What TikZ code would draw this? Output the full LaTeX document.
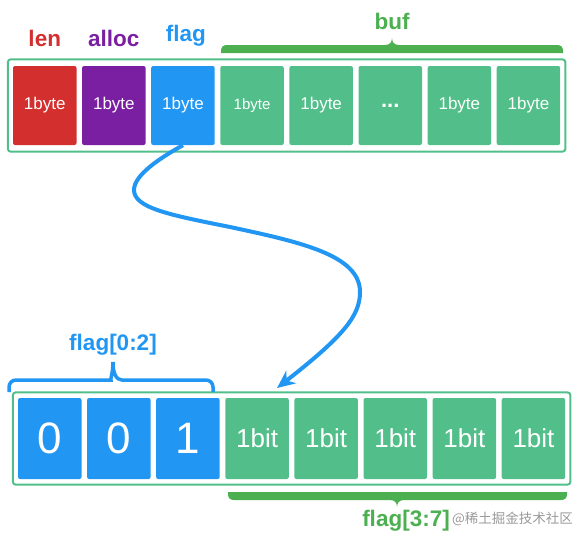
\documentclass[tikz,border=0pt]{standalone}
\usepackage{fontspec}
\setmainfont{Liberation Sans}
\newfontfamily\cjkfont{Noto Sans CJK SC}
\usetikzlibrary{positioning,fit,arrows.meta,calc}

\definecolor{lenred}{HTML}{D32F2F}
\definecolor{allocpurple}{HTML}{7B1FA2}
\definecolor{flagblue}{HTML}{2196F3}
\definecolor{cellgreen}{HTML}{52BF8A}
\definecolor{bracegreen}{HTML}{4CAF50}

\begin{document}
\begin{tikzpicture}[
    x=1pt, y=-1pt,
    cell/.style={
        rounded corners=2pt,
        minimum width=63.5pt,
        minimum height=79pt,
        inner sep=0pt,
        text=white,
        font=\fontsize{17}{17}\selectfont
    },
    bytecell/.style={cell, fill=cellgreen},
    bitcell/.style={cell, fill=cellgreen, minimum height=81pt, font=\fontsize{26}{26}\selectfont},
    digitcell/.style={bitcell, fill=flagblue, font=\fontsize{44}{44}\selectfont},
    frame/.style={draw=cellgreen, line width=2pt, rounded corners=3pt, inner xsep=5pt},
    lbl/.style={inner sep=0pt, font=\fontsize{22.5}{22.5}\selectfont\bfseries},
    flow/.style={-{Stealth[length=18pt,width=16pt]}, draw=flagblue, line width=4pt},
    bluebrace/.style={draw=flagblue, line width=3.5pt, rounded corners=7pt}
]
\useasboundingbox (0,0) rectangle (577,539);

% ============================================================
% STRUKTURA: len / alloc / flag / buf
% ============================================================
\node[cell, fill=lenred] (c1) at (44.75,105.5) {1byte};
\node[cell, fill=allocpurple, right=5.2pt of c1] (c2) {1byte};
\node[cell, fill=flagblue, right=5.2pt of c2] (c3) {1byte};
\node[bytecell, right=5.2pt of c3, font=\fontsize{15}{15}\selectfont] (c4) {1byte};
\node[bytecell, right=5.2pt of c4] (c5) {1byte};
\node[bytecell, right=5.2pt of c5, font=\fontsize{22}{22}\selectfont\bfseries] (c6) {...};
\node[bytecell, right=5.2pt of c6] (c7) {1byte};
\node[bytecell, right=5.2pt of c7] (c8) {1byte};
\node[frame, inner ysep=6.5pt, fit=(c1)(c8)] (topframe) {};

\node[lbl, text=lenred, above=19pt of c1] (lenlbl) {len};
\node[lbl, text=allocpurple, above=19pt of c2] (alloclbl) {alloc};
\node[lbl, text=flagblue, above=19pt of c3, xshift=3pt] (flaglbl) {flag};

% klamra buf
\coordinate (buftip) at (392,38);
\fill[bracegreen] (221,53) -- (221,51) .. controls (221,47) and (223,45) .. (227,45)
    -- (385,45) .. controls (390,45) and (392,42) .. (buftip)
    .. controls (392,42) and (394,45) .. (399,45)
    -- (557,45) .. controls (561,45) and (563,47) .. (563,51) -- (563,53) -- cycle;
\node[lbl, text=bracegreen, above=8pt of buftip] (buflbl) {buf};

% ============================================================
% BITY FLAG
% ============================================================
\node[digitcell] (b0) at (49.75,438.5) {0};
\node[digitcell, right=5.2pt of b0] (b1) {0};
\node[digitcell, right=5.2pt of b1] (b2) {1};
\node[bitcell, right=5.2pt of b2] (b3) {1bit};
\node[bitcell, right=5.2pt of b3] (b4) {1bit};
\node[bitcell, right=5.2pt of b4] (b5) {1bit};
\node[bitcell, right=5.2pt of b5] (b6) {1bit};
\node[bitcell, right=5.2pt of b6] (b7) {1bit};
\node[frame, inner ysep=5.5pt, fit=(b0)(b7)] (bitframe) {};

% klamra flag[0:2]
\coordinate (lowtip) at (113,362);
\draw[bluebrace] (9,392) |- (104,380) [sharp corners]
    .. controls (110,380) and (113,373) .. (lowtip)
    .. controls (113,373) and (116,380) .. (122,380) [rounded corners=7pt] -| (213,392);
\node[lbl, text=flagblue, above=7pt of lowtip] (lowlbl) {flag[0:2]};

% klamra flag[3:7]
\coordinate (hightip) at (397,507);
\fill[bracegreen] (228,492) -- (228,494) .. controls (228,498) and (230,500) .. (234,500)
    -- (390,500) .. controls (395,500) and (397,503) .. (hightip)
    .. controls (397,503) and (399,500) .. (404,500)
    -- (561,500) .. controls (565,500) and (567,498) .. (567,494) -- (567,492) -- cycle;
\node[lbl, text=bracegreen, below=3pt of hightip, xshift=9pt] (highlbl) {flag[3:7]};
\node[anchor=west, inner sep=0pt, text=gray!80, font=\cjkfont\fontsize{13.5}{13.5}\selectfont]
    (mark) at ($(highlbl.east)+(2,-2)$) {@稀土掘金技术社区};

% ============================================================
% flag -> bity
% ============================================================
\coordinate (flagin) at (277,388);
\draw[flow] (c3.south) .. controls (160,158) and (134,175) .. (134,190)
    .. controls (134,208) and (170,215) .. (230,227)
    .. controls (300,242) and (360,255) .. (360,292)
    .. controls (360,315) and (345,335) .. (flagin);

\end{tikzpicture}
\end{document}
